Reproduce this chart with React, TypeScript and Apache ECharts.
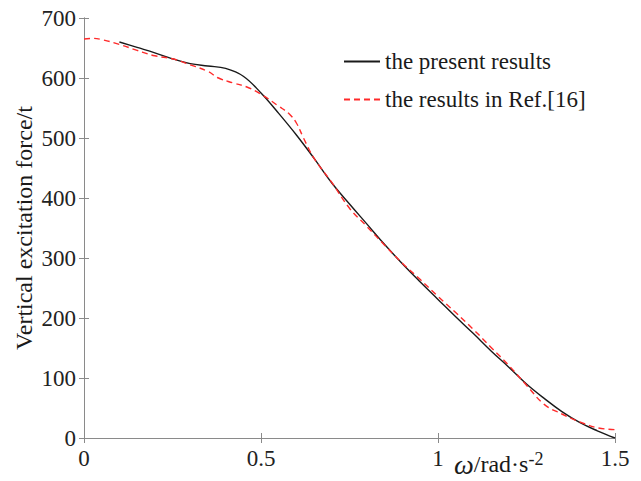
import React, { useEffect, useRef } from "react";
import * as echarts from "echarts";

// Frequency (rad/s) and vertical excitation force (t) — present method
const presentOmega = [0.1, 0.15, 0.2, 0.25, 0.3, 0.35, 0.4, 0.45, 0.5, 0.55, 0.6, 0.65, 0.7, 0.75, 0.8, 0.85, 0.9, 0.95, 1.0, 1.05, 1.1, 1.15, 1.2, 1.25, 1.3, 1.35, 1.4, 1.45, 1.5];
const presentForce = [660, 651, 642, 632, 624, 620, 616, 603, 575, 541, 505, 466, 425, 390, 356, 322, 290, 260, 231, 202, 174, 145, 118, 90, 66, 44, 26, 12, 0];

// Reference results (Ref.[16])
const refOmega = [0, 0.025, 0.05, 0.1, 0.15, 0.2, 0.25, 0.3, 0.35, 0.38, 0.42, 0.46, 0.5, 0.55, 0.58, 0.6, 0.62, 0.65, 0.7, 0.75, 0.8, 0.85, 0.9, 0.95, 1.0, 1.05, 1.1, 1.15, 1.2, 1.25, 1.3, 1.35, 1.4, 1.45, 1.5];
const refForce = [665, 666, 664, 656, 646, 637, 632, 622, 611, 600, 592, 585, 573, 553, 540, 525, 500, 466, 426, 383, 352, 321, 291, 264, 236, 209, 181, 151, 121, 88, 56, 40, 27, 17, 14];

const seriesNames = ["the present results", "the results in Ref.[16]"];

const FONT = "Liberation Serif";
const AXIS_COLOR = "#8a8a8a";
const LABEL_COLOR = "#222222";

export default function App() {
  const ref = useRef<HTMLDivElement>(null);

  useEffect(() => {
    if (!ref.current) return;
    const chart = echarts.init(ref.current, undefined, { renderer: "svg" });

    const pair = (xs: number[], ys: number[]) => xs.map((x, i) => [x, ys[i]]);

    const tickStyle = { show: true, inside: true, length: 5, lineStyle: { color: AXIS_COLOR, width: 1 } };
    const lineStyleAxis = { show: true, lineStyle: { color: AXIS_COLOR, width: 1 } };

    chart.setOption({
      animation: false,
      backgroundColor: "#ffffff",
      grid: { left: 84, right: 26, top: 18, bottom: 43, containLabel: false },
      xAxis: [
        {
          type: "value",
          min: 0,
          max: 1.5,
          interval: 0.5,
          axisLine: lineStyleAxis,
          axisTick: tickStyle,
          splitLine: { show: false },
          axisLabel: { color: LABEL_COLOR, fontFamily: FONT, fontSize: 23, margin: 9 },
        },
        {
          type: "value",
          position: "top",
          min: 0,
          max: 1.5,
          interval: 0.5,
          axisLine: lineStyleAxis,
          axisTick: tickStyle,
          splitLine: { show: false },
          axisLabel: { show: false },
        },
      ],
      yAxis: [
        {
          type: "value",
          min: 0,
          max: 700,
          interval: 100,
          axisLine: lineStyleAxis,
          axisTick: tickStyle,
          splitLine: { show: false },
          axisLabel: { color: LABEL_COLOR, fontFamily: FONT, fontSize: 23, margin: 8 },
        },
        {
          type: "value",
          position: "right",
          min: 0,
          max: 700,
          interval: 100,
          axisLine: lineStyleAxis,
          axisTick: tickStyle,
          splitLine: { show: false },
          axisLabel: { show: false },
        },
      ],
      legend: {
        orient: "vertical",
        left: 338,
        top: 45,
        itemWidth: 36,
        itemHeight: 14,
        itemGap: 15,
        data: seriesNames,
        itemStyle: { opacity: 0, borderWidth: 0 },
        textStyle: { fontFamily: FONT, fontSize: 23, color: "#1a1a1a" },
      },
      series: [
        {
          name: seriesNames[0],
          type: "line",
          data: pair(presentOmega, presentForce),
          smooth: 0.4,
          symbol: "none",
          lineStyle: { color: "#1a1a1a", width: 1.4 },
          itemStyle: { color: "#1a1a1a" },
          z: 3,
        },
        {
          name: seriesNames[1],
          type: "line",
          data: pair(refOmega, refForce),
          smooth: 0.4,
          symbol: "none",
          lineStyle: { color: "#ff2a2a", width: 1.4, type: [6, 4] },
          itemStyle: { color: "#ff2a2a" },
          z: 4,
        },
      ],
      graphic: [
        {
          type: "text",
          x: 24,
          y: 228,
          rotation: Math.PI / 2,
          style: {
            text: "Vertical excitation force/t",
            fontFamily: FONT,
            fontSize: 24,
            fill: "#1a1a1a",
            align: "center",
            verticalAlign: "middle",
          },
        },
        {
          type: "text",
          x: 454,
          y: 464,
          style: {
            text: "{w|ω}/rad·s{s|-2}",
            fontFamily: FONT,
            fontSize: 24,
            fill: "#1a1a1a",
            verticalAlign: "middle",
            rich: {
              w: { fontFamily: FONT, fontStyle: "italic", fontSize: 28, fill: "#1a1a1a" },
              s: { fontFamily: FONT, fontSize: 18, verticalAlign: "top", fill: "#1a1a1a" },
            },
          },
        },
      ],
    });

    return () => chart.dispose();
  }, []);

  return <div ref={ref} style={{ width: 641, height: 481, position: "absolute", left: 0, top: 0 }} />;
}
